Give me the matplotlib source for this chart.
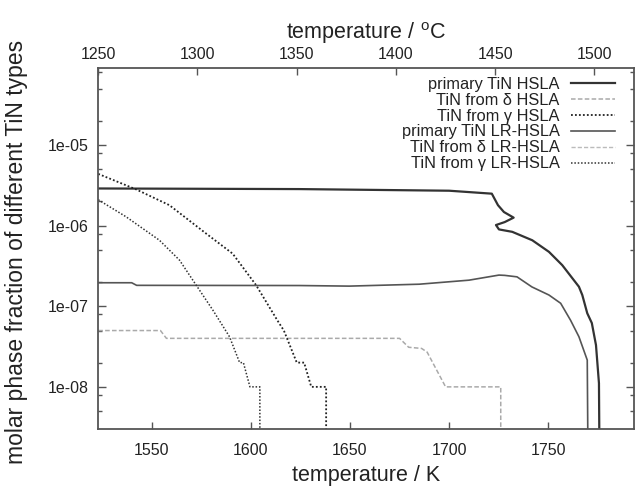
import matplotlib
matplotlib.use("Agg")
import matplotlib.pyplot as plt
import numpy as np
from matplotlib.ticker import LogLocator, FixedLocator, FuncFormatter, NullLocator

plt.rcParams['font.family'] = ['Liberation Sans', 'DejaVu Sans']
plt.rcParams['mathtext.fontset'] = 'custom'
plt.rcParams['mathtext.rm'] = 'Liberation Sans'

# --- data (temperature in K, molar phase fraction) ---
prim_hsla_T = [1523.15, 1624.5, 1700.0, 1721.5, 1724.6, 1727.6, 1732.5, 1728.0, 1723.6,
               1725.1, 1731.8, 1741.9, 1750.3, 1757.0, 1765.4, 1767.1, 1769.6, 1771.9,
               1774.0, 1775.5, 1775.8]
prim_hsla_f = [2.90e-6, 2.85e-6, 2.72e-6, 2.50e-6, 1.80e-6, 1.48e-6, 1.26e-6, 1.11e-6, 1.02e-6,
               9.0e-7, 8.4e-7, 6.6e-7, 4.74e-7, 3.24e-7, 1.75e-7, 1.38e-7, 8.2e-8, 6.2e-8,
               3.3e-8, 1.11e-8, 1e-9]

prim_lr_T = [1523.15, 1540.0, 1542.5, 1624.5, 1649.6, 1684.9, 1710.0, 1725.1, 1728.0,
             1734.2, 1741.7, 1750.3, 1756.2, 1761.2, 1765.4, 1769.6, 1770.0]
prim_lr_f = [1.96e-7, 1.96e-7, 1.82e-7, 1.81e-7, 1.78e-7, 1.88e-7, 2.11e-7, 2.44e-7, 2.42e-7,
             2.32e-7, 1.74e-7, 1.38e-7, 1.09e-7, 6.7e-8, 4.19e-8, 2.15e-8, 1e-9]

delta_hsla_T = [1523.15, 1554.5, 1557.5, 1675.0, 1679.6, 1686.1, 1688.9, 1698.2, 1726.0, 1726.0]
delta_hsla_f = [5e-8, 5e-8, 4e-8, 4e-8, 3.1e-8, 3.0e-8, 2.7e-8, 1e-8, 1e-8, 1e-9]

delta_lr_T = []   # not visible within the plotted range
delta_lr_f = []

gamma_hsla_T = [1523.15, 1542.3, 1559.0, 1577.5, 1590.9, 1602.7, 1613.4, 1616.7, 1623.2,
                1626.9, 1630.5, 1638.0, 1638.0]
gamma_hsla_f = [4.4e-6, 2.82e-6, 1.80e-6, 8.0e-7, 4.5e-7, 1.83e-7, 6.7e-8, 5e-8, 2e-8,
                2e-8, 1e-8, 1e-8, 1e-9]

gamma_lr_T = [1523.15, 1537.2, 1554.0, 1564.1, 1572.5, 1580.9, 1589.3, 1594.4, 1596.3,
              1599.6, 1604.6, 1604.6]
gamma_lr_f = [2.1e-6, 1.29e-6, 6.6e-7, 3.74e-7, 1.83e-7, 8.97e-8, 4.19e-8, 2e-8, 2e-8,
              1e-8, 1e-8, 1e-9]

celsius_ticks = [1250, 1300, 1350, 1400, 1450, 1500]
kelvin_ticks = [1550, 1600, 1650, 1700, 1750]

fig = plt.figure(figsize=(6.38, 4.91), dpi=100)
ax = fig.add_axes([0.154, 0.1263, 0.8397, 0.7362])

txt = '#222222'
ax.plot(prim_hsla_T, prim_hsla_f, color='#333333', lw=1.6, label='primary TiN HSLA')
ax.plot(delta_hsla_T, delta_hsla_f, color='#aaaaaa', lw=1.1, ls=(0, (3, 1.5)), label='TiN from δ HSLA')
ax.plot(gamma_hsla_T, gamma_hsla_f, color='#222222', lw=1.3, ls=(0, (1, 1.2)), label='TiN from γ HSLA')
ax.plot(prim_lr_T, prim_lr_f, color='#555555', lw=1.2, label='primary TiN LR-HSLA')
ax.plot(delta_lr_T, delta_lr_f, color='#bbbbbb', lw=1.0, ls=(0, (3, 1.5)), label='TiN from δ LR-HSLA')
ax.plot(gamma_lr_T, gamma_lr_f, color='#333333', lw=1.1, ls=(0, (1, 1.2)), label='TiN from γ LR-HSLA')

ax.set_yscale('log')
ax.set_xlim(1523.15, 1793.15)
ax.set_ylim(3e-9, 9.2e-5)

ax.xaxis.set_major_locator(FixedLocator(kelvin_ticks))
ax.xaxis.set_minor_locator(NullLocator())
ax.yaxis.set_major_locator(FixedLocator([1e-8, 1e-7, 1e-6, 1e-5]))
ax.yaxis.set_minor_locator(LogLocator(base=10, subs=[2, 5, 8], numticks=20))
ax.yaxis.set_major_formatter(FuncFormatter(lambda v, p: f"{v:.0e}"))

ax.tick_params(axis='both', which='both', direction='in', colors='#555555',
               labelcolor=txt, labelsize=11.5, width=1.0)
ax.tick_params(axis='x', which='major', length=5, top=False, pad=10)
ax.tick_params(axis='y', which='major', length=6, right=True, pad=7)
ax.tick_params(axis='y', which='minor', length=3, right=True)
for s in ax.spines.values():
    s.set_color('#555555')
    s.set_linewidth(1.3)

top = ax.secondary_xaxis('top', functions=(lambda k: k - 273.15, lambda c: c + 273.15))
top.xaxis.set_major_locator(FixedLocator(celsius_ticks))
top.xaxis.set_minor_locator(NullLocator())
top.tick_params(direction='in', length=5, colors='#555555', labelcolor=txt,
                labelsize=11.5, pad=4, width=1.0)
top.spines['top'].set_visible(False)
top.set_xlabel(r'temperature / $^{\mathrm{o}}$C', fontsize=15.5, color=txt, labelpad=6)

ax.set_xlabel('temperature / K', fontsize=15.5, color=txt, labelpad=5)
ax.set_ylabel('molar phase fraction of different TiN types', fontsize=16.5, color=txt)
ax.yaxis.set_label_coords(-0.131, 0.49)

leg = ax.legend(loc='upper right', bbox_to_anchor=(0.965, 0.975), frameon=False,
                markerfirst=False, fontsize=11.8, handlelength=2.7, handletextpad=0.7,
                labelspacing=0.06, borderaxespad=0, borderpad=0)
for t in leg.get_texts():
    t.set_color(txt)

fig.savefig('out.png', dpi=100)
